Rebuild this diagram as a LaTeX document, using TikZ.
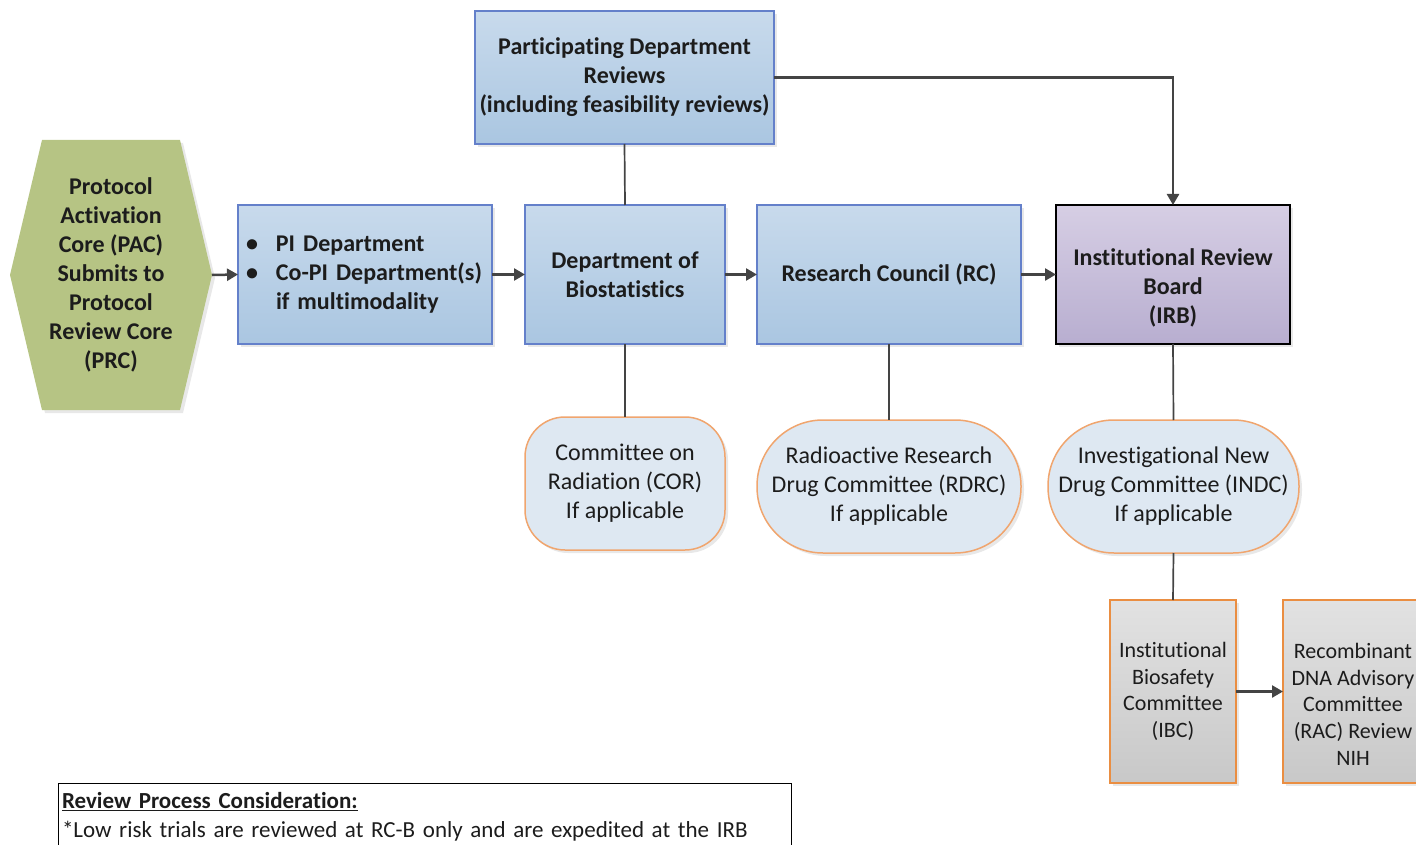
\documentclass[tikz,border=0pt]{standalone}
\usepackage{fontspec}
\setmainfont{Carlito}[Ligatures={NoCommon,NoContextual}]
\usetikzlibrary{arrows.meta,shadows,backgrounds}
\definecolor{blueT}{RGB}{200,218,236}
\definecolor{blueB}{RGB}{170,198,225}
\definecolor{blueD}{RGB}{100,128,202}
\definecolor{greenF}{RGB}{182,196,132}
\definecolor{purT}{RGB}{214,206,228}
\definecolor{purB}{RGB}{184,174,208}
\definecolor{lightF}{RGB}{222,232,242}
\definecolor{orangeD}{RGB}{240,165,110}
\definecolor{orangeG}{RGB}{234,142,66}
\definecolor{grayT}{RGB}{226,226,226}
\definecolor{grayB}{RGB}{200,200,200}
\definecolor{lineC}{RGB}{68,68,68}
\definecolor{txt}{RGB}{28,28,28}
\begin{document}
\begin{tikzpicture}[x=1pt,y=-1pt,
  shadowed/.style={drop shadow={shadow xshift=3pt,shadow yshift=-3pt,opacity=0.18}},
  plainbox/.style={shape=rectangle,inner sep=0pt,outer sep=0pt,align=center,text=txt},
  basebox/.style={plainbox,shadowed},
  bluebox/.style={basebox,draw=blueD,line width=1.5pt,top color=blueT,bottom color=blueB,
    font=\fontsize{24}{29}\selectfont\bfseries},
  irbbox/.style={basebox,draw=black,line width=1.5pt,top color=purT,bottom color=purB,
    font=\fontsize{24}{29}\selectfont\bfseries},
  roundbox/.style={basebox,draw=orangeD,line width=1.5pt,fill=lightF,
    font=\fontsize{24}{29}\selectfont},
  graybox/.style={basebox,draw=orangeG,line width=1.5pt,top color=grayT,bottom color=grayB,
    font=\fontsize{22}{26.75}\selectfont},
  arrowC/.style={draw=lineC,line width=2.5pt,-{Triangle[length=11pt,width=12pt]}},
  conn/.style={draw=lineC,line width=1.7pt}
]
\useasboundingbox (0,0) rectangle (1416,845);
\clip (0,0) rectangle (1416,845);

% hexagon (text node; shape drawn on background)
\node[plainbox,minimum width=202,minimum height=270,
  font=\fontsize{24}{29}\selectfont\bfseries] (pac) at (111,275)
  {Protocol\\Activation\\Core (PAC)\\Submits to\\Protocol\\Review Core\\(PRC)};
\begin{pgfonlayer}{background}
\fill[greenF,shadowed] (pac.west) -- ([xshift=32pt]pac.north west) -- ([xshift=-32pt]pac.north east)
  -- (pac.east) -- ([xshift=-32pt]pac.south east) -- ([xshift=32pt]pac.south west) -- cycle;
\end{pgfonlayer}

\node[bluebox,minimum width=299,minimum height=133] (part) at (624.5,77.5)
  {Participating Department\\Reviews\\(including feasibility reviews)};
\node[bluebox,minimum width=254,minimum height=139,text width=238,align=left] (pi) at (365,274.5)
  {\makebox[30pt][l]{\textbullet}PI Department\\\makebox[30pt][l]{\textbullet}Co-PI Department(s)\\\hspace*{30pt}if multimodality};
\node[bluebox,minimum width=200,minimum height=139] (bio) at (625,274.5)
  {Department of\\Biostatistics};
\node[bluebox,minimum width=264,minimum height=139] (rc) at (889,274.5)
  {Research Council (RC)};
\node[irbbox,minimum width=234,minimum height=139] (irb) at (1173,274.5)
  {\vphantom{Ag}\\Institutional Review\\Board\\(IRB)};

\node[roundbox,minimum width=200,minimum height=133,rounded corners=40pt] (cor) at (625,483.5)
  {Committee on\\Radiation (COR)\\If applicable};
\node[roundbox,minimum width=264,minimum height=133,rounded corners=66pt] (rdrc) at (889,486.5)
  {Radioactive Research\\Drug Committee (RDRC)\\If applicable};
\node[roundbox,minimum width=251,minimum height=133,rounded corners=66pt] (indc) at (1173.5,486.5)
  {Investigational New\\Drug Committee (INDC)\\If applicable};

\node[graybox,minimum width=126,minimum height=183] (ibc) at (1173,691.5)
  {Institutional\\Biosafety\\Committee\\(IBC)};
\node[graybox,minimum width=140,minimum height=183] (rac) at (1353,691.5)
  {\vphantom{Ag}\\Recombinant\\DNA Advisory\\Committee\\(RAC) Review\\NIH};

\node[plainbox,anchor=north west,inner xsep=4pt,inner ysep=9pt,text width=725,align=left,
  font=\fontsize{23}{29}\selectfont] (note) at (58,783)
  {\textbf{\underline{Review Process Consideration:}}\\\mbox{*}Low risk trials are reviewed at RC-B only and are expedited at the IRB};
\draw[black,line width=1pt] (note.north west) rectangle ([yshift=-60pt]note.south east);

% connectors
\draw[arrowC] (pac.east) -- (pi.west);
\draw[arrowC] (pi.east) -- (bio.west);
\draw[arrowC] (bio.east) -- (rc.west);
\draw[arrowC] (rc.east) -- (irb.west);
\draw[arrowC] (part.east) -| (irb.north);
\draw[conn] (part.south) -- (bio.north);
\draw[conn] (bio.south) -- (cor.north);
\draw[conn] (rc.south) -- (rdrc.north);
\draw[conn] (irb.south) -- (indc.north);
\draw[conn] (indc.south) -- (ibc.north);
\draw[arrowC] (ibc.east) -- (rac.west);
\end{tikzpicture}
\end{document}
